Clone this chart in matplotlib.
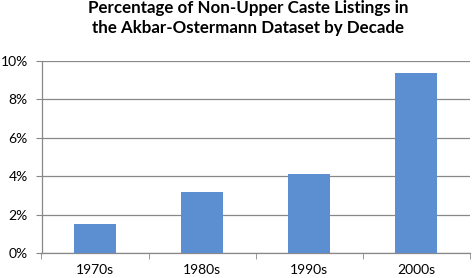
import matplotlib
matplotlib.use('Agg')
from matplotlib import pyplot as plt
from matplotlib.ticker import FixedLocator

decades = ['1970s', '1980s', '1990s', '2000s']
share = [1.5, 3.2, 4.1, 9.4]
yticks = [0, 2, 4, 6, 8, 10]

plt.rcParams['font.family'] = ['Lato', 'DejaVu Sans']

fig = plt.figure(figsize=(4.72, 2.78), dpi=100)
ax = fig.add_axes([41.5 / 472, 25 / 278, 428 / 472, 192 / 278])

x = range(len(decades))
ax.bar(x, share, width=0.4, color='#5b8fd1', zorder=3)

ax.set_xlim(-0.5, len(decades) - 0.5)
ax.set_ylim(0, 10)
ax.set_yticks(yticks)
ax.set_yticklabels(['{}%'.format(v) for v in yticks], fontsize=10)
ax.set_xticks(list(x))
ax.set_xticklabels(decades, fontsize=10)
ax.xaxis.set_minor_locator(FixedLocator([i + 0.5 for i in range(-1, len(decades))]))
ax.tick_params(axis='x', which='major', length=0, pad=8)
ax.tick_params(axis='x', which='minor', length=4, color='#888888', direction='out')
ax.tick_params(axis='y', length=4, color='#888888', direction='out', pad=6)

ax.grid(axis='y', color='#888888', linewidth=0.9, zorder=0)
for side in ['top', 'right']:
    ax.spines[side].set_visible(False)
for side in ['left', 'bottom']:
    ax.spines[side].set_color('#888888')
    ax.spines[side].set_linewidth(0.9)

fig.suptitle('Percentage of Non-Upper Caste Listings in\nthe Akbar-Ostermann Dataset by Decade',
             x=248 / 472, y=1.0, fontsize=12.2, fontweight='bold', linespacing=1.3)

fig.savefig('out.png', dpi=100)
